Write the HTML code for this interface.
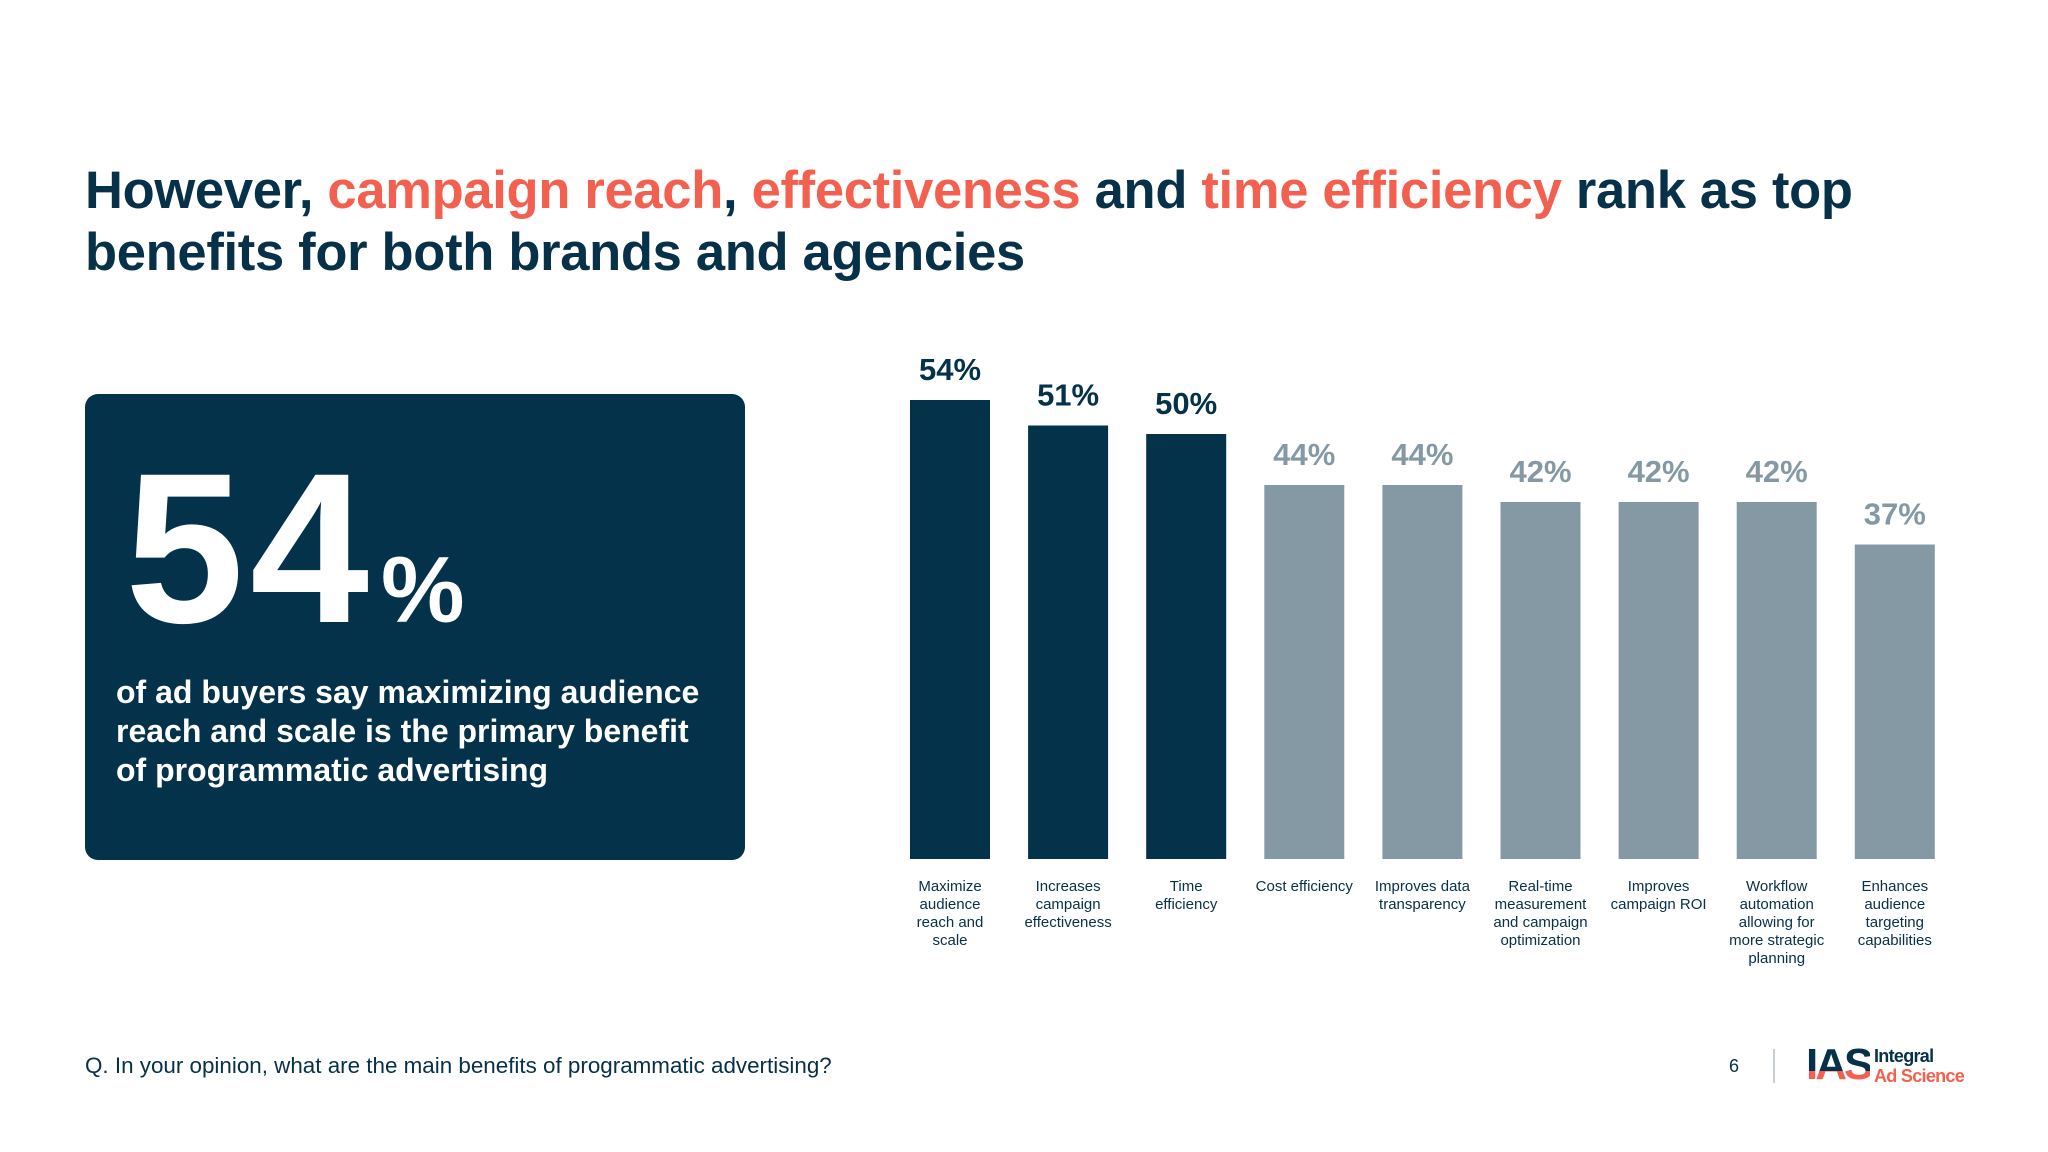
<!DOCTYPE html>
<html><head><meta charset="utf-8"><style>
body{margin:0;width:2048px;height:1152px;background:#fff;overflow:hidden;font-family:"Liberation Sans",sans-serif;position:relative;color:#073049}
.t{position:absolute;left:85px;top:160px;font-size:52.5px;font-weight:bold;line-height:62px;letter-spacing:-0.3px;color:#073049}
.t span{color:#f4604f}
.card{position:absolute;left:85px;top:394px;width:660px;height:466px;background:#03324a;border-radius:13px}
.big{position:absolute;left:40px;top:48px;color:#fff;font-weight:bold;font-size:214px;line-height:214px;letter-spacing:6px}
.big small{font-size:94px;letter-spacing:0;margin-left:6px}
.desc{position:absolute;left:31px;top:279px;color:#fff;font-size:32px;line-height:39px;font-weight:bold}
.foot{position:absolute;left:85px;top:1053px;font-size:22.4px;color:#073049}
</style></head><body>
<div class="t">However, <span>campaign reach</span>, <span>effectiveness</span> and <span>time efficiency</span> rank as top<br>benefits for both brands and agencies</div>
<div class="card">
<div class="big">54<small>%</small></div>
<div class="desc">of ad buyers say maximizing audience<br>reach and scale is the primary benefit<br>of programmatic advertising</div>
</div>
<svg id="chart" width="2048" height="1152" style="position:absolute;left:0;top:0"></svg>
<div class="foot">Q. In your opinion, what are the main benefits of programmatic advertising?</div>
<div style="position:absolute;left:1729px;top:1056px;font-size:18px">6</div>
<div style="position:absolute;left:1773px;top:1049px;width:2px;height:34px;background:#c8cfd4"></div>
<div style="position:absolute;left:1806px;top:1046px;width:170px;height:42px">
<div style="position:absolute;left:0;top:-6px;font-size:44px;font-weight:bold;letter-spacing:-3px;line-height:50px;background:linear-gradient(#073049 62%,#f4604f 62%);-webkit-background-clip:text;color:transparent">IAS</div>
<div style="position:absolute;left:68px;top:0;font-size:18px;font-weight:bold;line-height:20px;color:#073049;letter-spacing:-0.7px">Integral<br><span style="color:#f4604f">Ad Science</span></div>
</div>
<script>
const categories=[["Maximize","audience","reach and","scale"],["Increases","campaign","effectiveness"],["Time","efficiency"],["Cost efficiency"],["Improves data","transparency"],["Real-time","measurement","and campaign","optimization"],["Improves","campaign ROI"],["Workflow","automation","allowing for","more strategic","planning"],["Enhances","audience","targeting","capabilities"]];
const values=[54,51,50,44,44,42,42,42,37];
const highlighted=[true,true,true,false,false,false,false,false,false];
const svg=document.getElementById('chart');
const NS='http://www.w3.org/2000/svg';
const x0=910,step=118.1,bw=80,base=859,scale=8.5;
function xPos(i){return x0+i*step;}
function yPos(v){return base-v*scale;}
values.forEach((v,i)=>{
 const col=highlighted[i]?'#03324a':'#8599a5';
 const r=document.createElementNS(NS,'rect');
 r.setAttribute('x',xPos(i));r.setAttribute('y',yPos(v));r.setAttribute('width',bw);r.setAttribute('height',base-yPos(v));r.setAttribute('fill',col);
 
 
 svg.appendChild(r);
 const t=document.createElementNS(NS,'text');
 t.setAttribute('x',xPos(i)+bw/2);t.setAttribute('y',yPos(v)-20);t.setAttribute('text-anchor','middle');
 t.setAttribute('font-size','31');t.setAttribute('font-weight','bold');t.setAttribute('fill',col);
 t.setAttribute('font-family','Liberation Sans, sans-serif');
 t.textContent=v+'%';
 
 
 svg.appendChild(t);
 const c=document.createElementNS(NS,'text');
 c.setAttribute('text-anchor','middle');c.setAttribute('font-size','15');c.setAttribute('fill','#073049');
 c.setAttribute('font-family','Liberation Sans, sans-serif');
 
 
 categories[i].forEach((line,k)=>{
  const ts=document.createElementNS(NS,'tspan');
  ts.setAttribute('x',xPos(i)+bw/2);ts.setAttribute('y',891+k*18);ts.textContent=line;c.appendChild(ts);
 });
 svg.appendChild(c);
});
</script>
</body></html>
